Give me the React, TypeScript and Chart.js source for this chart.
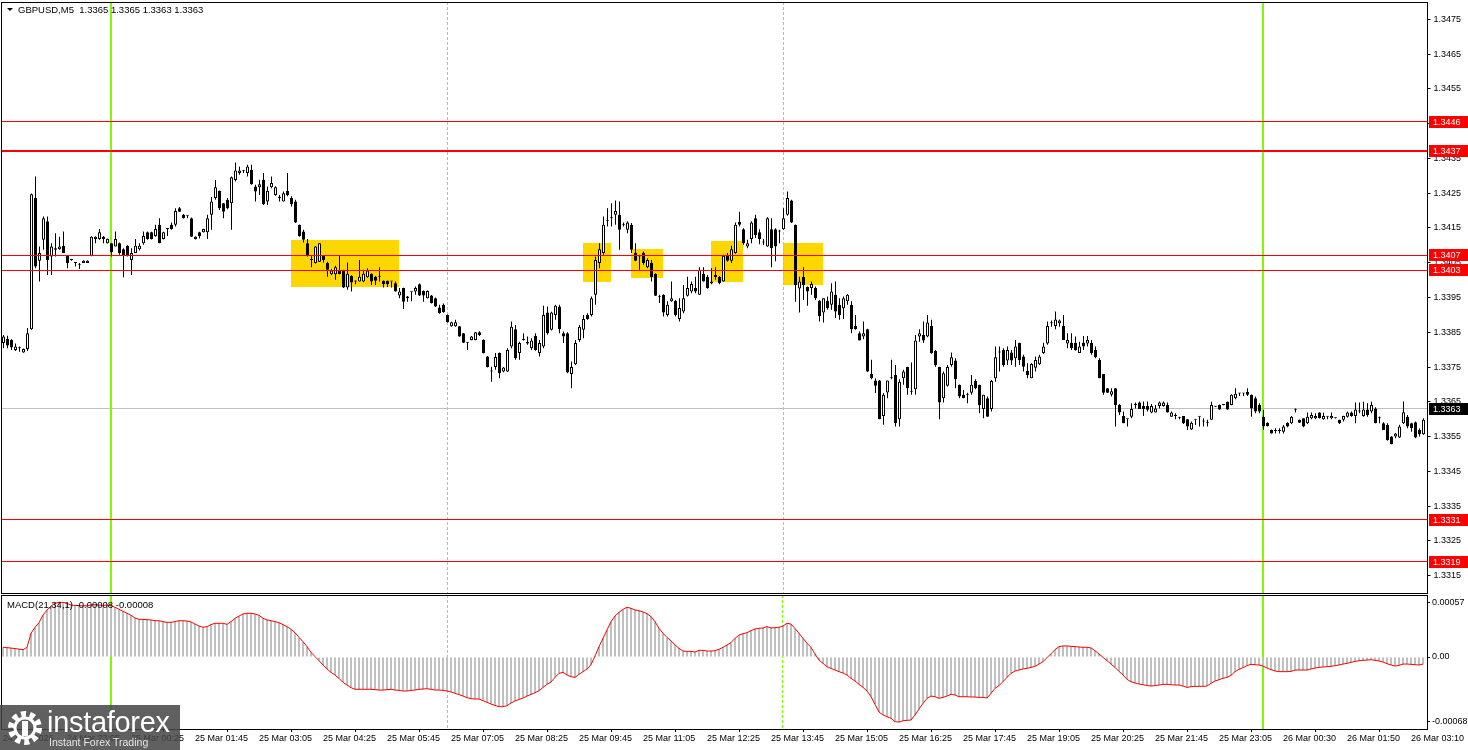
import React, { useEffect, useRef } from "react";
import { Chart, registerables } from "chart.js";

Chart.register(...registerables);

const FONT = '"Liberation Sans", Arial, sans-serif';
Chart.defaults.font.family = FONT;

// ---- data (prices in pips above PRICE_BASE) ----
const PRICE_BASE = 1.33;
const PIP = 0.0001;

const OPEN = [
  81.9,83.1,82.8,79.9,80.4,79.2,80.2,85.9,123.6,105.6,
  111.6,116.9,106.8,109.2,108.9,109.9,107.0,105.8,104.9,104.4,
  104.9,104.9,107.0,111.8,111.8,112.5,110.6,110.6,109.7,110.6,
  108.9,109.9,105.8,107.8,108.9,110.6,113.8,113.8,112.7,115.9,
  111.8,114.7,115.9,115.9,120.7,118.8,118.5,117.8,111.8,113.8,
  113.8,113.8,118.8,123.6,125.7,122.1,123.1,122.1,128.8,130.8,
  131.3,130.8,131.7,126.9,126.7,128.9,122.6,126.7,124.5,123.6,
  122.6,125.7,123.6,122.6,115.9,114.0,110.6,105.8,104.9,105.3,
  107.0,104.9,101.7,101.7,102.8,102.8,97.9,101.2,99.6,99.6,
  99.6,100.8,101.8,101.0,101.0,99.8,99.8,99.6,99.1,95.6,
  97.7,94.8,96.5,96.7,98.8,96.9,94.8,95.6,94.8,92.1,
  92.9,90.0,86.7,86.7,86.7,84.7,82.0,82.8,82.8,85.0,
  82.8,78.0,73.7,75.0,79.0,73.7,73.7,80.9,85.9,79.0,
  82.8,82.3,80.4,84.0,79.0,80.9,90.7,85.7,90.0,92.4,
  84.7,84.7,73.0,75.8,82.8,85.7,90.0,90.0,95.8,104.9,
  107.8,116.9,117.8,118.8,118.8,115.9,114.5,115.9,107.9,106.8,
  107.9,103.7,104.9,101.8,95.1,95.8,90.0,93.9,94.1,88.8,
  91.0,95.5,96.7,97.7,95.8,101.8,100.9,99.0,100.9,101.0,
  99.6,107.0,105.6,107.8,116.8,114.6,109.7,111.8,117.8,113.8,
  110.8,109.7,114.6,114.6,114.0,114.6,118.8,122.9,115.9,97.6,
  100.9,98.0,97.7,97.7,94.1,90.7,94.1,92.9,95.8,92.9,
  91.9,93.9,92.9,86.8,84.7,83.8,85.9,73.0,71.1,71.1,
  60.9,67.7,71.8,72.7,60.0,71.8,75.0,67.9,68.6,83.8,
  84.2,83.8,86.8,79.7,75.0,66.0,69.6,75.6,76.9,69.9,
  67.0,67.0,67.6,71.0,69.9,62.9,66.0,62.9,71.8,79.2,
  79.9,76.9,79.2,77.5,82.0,78.0,73.9,71.8,74.8,75.8,
  79.0,81.8,87.6,86.8,87.6,86.8,81.8,82.0,82.0,79.0,
  82.0,81.8,82.0,79.9,77.0,73.0,68.9,67.0,68.9,64.1,
  60.9,60.0,60.7,64.1,64.8,63.8,63.8,61.9,61.9,63.8,
  63.8,64.1,60.7,60.9,60.3,60.9,60.0,57.0,59.8,60.7,
  59.3,59.0,59.8,63.6,64.1,64.1,65.0,64.1,66.0,67.4,
  67.4,67.9,67.0,66.0,64.1,60.7,59.0,56.9,56.6,56.6,
  56.4,59.0,58.8,62.7,59.8,60.3,58.8,60.3,60.3,61.9,
  60.0,60.7,60.3,60.3,59.8,59.8,60.7,61.9,60.9,62.2,
  60.9,62.8,62.2,63.1,60.3,58.8,58.3,55.0,55.0,54.7,
  58.8,60.7,58.8,59.1,56.9,55.7,
];

const HIGH = [
  84.2,84.0,83.0,81.8,80.9,80.3,86.2,124.9,129.8,109.7,
  118.3,118.3,110.6,113.5,112.5,114.0,107.2,106.0,105.0,104.9,
  105.7,105.7,112.6,112.6,114.7,112.7,112.0,110.7,114.0,110.8,
  109.2,110.0,109.2,111.8,110.6,114.0,114.0,113.9,115.9,117.8,
  113.9,114.8,116.6,120.7,121.0,119.0,118.6,118.0,112.6,113.9,
  114.8,118.8,123.9,128.8,125.8,122.2,123.6,129.8,133.8,132.7,
  131.7,133.2,133.2,127.4,128.9,130.8,126.9,129.8,127.0,124.5,
  125.5,130.8,124.1,123.1,116.0,114.5,111.8,107.0,109.8,110.7,
  107.2,105.3,103.2,104.1,107.0,103.0,105.1,101.4,99.9,105.8,
  103.0,103.4,102.0,101.2,103.7,99.9,99.9,99.7,99.6,97.7,
  97.8,95.4,96.7,98.2,99.0,97.0,97.0,95.7,95.0,92.9,
  93.3,90.1,88.0,88.6,86.8,84.8,82.1,83.9,85.1,85.3,
  83.0,78.2,75.1,79.0,79.2,75.0,80.4,88.1,87.1,82.3,
  84.7,83.8,83.3,84.7,82.8,92.6,92.4,90.9,92.9,92.9,
  85.2,85.0,76.6,82.8,87.1,90.0,90.5,95.3,106.8,110.6,
  118.3,120.7,122.1,122.9,122.6,116.6,116.9,116.4,110.6,107.3,
  108.2,106.3,105.8,102.0,95.8,95.9,93.9,99.6,94.3,94.8,
  98.6,101.0,99.6,101.0,103.7,103.7,101.5,103.4,103.7,101.2,
  107.3,107.8,109.9,116.6,119.7,114.9,111.6,116.9,118.8,114.6,
  111.8,118.1,117.8,114.9,114.5,120.7,125.5,123.1,116.0,101.0,
  103.7,98.2,99.6,98.2,94.3,94.8,95.3,99.1,99.6,94.8,
  95.3,96.0,93.9,90.0,85.2,88.1,86.0,77.1,71.8,71.3,
  67.5,71.1,77.1,75.6,71.5,74.2,75.1,76.3,84.2,85.9,
  88.1,90.0,88.6,79.9,75.1,73.7,75.6,79.2,77.5,70.0,
  68.4,67.6,72.7,71.5,69.9,67.0,66.5,71.3,80.9,80.9,
  80.4,80.9,79.9,82.8,82.0,78.5,76.1,76.1,78.0,78.5,
  82.0,88.1,88.4,91.0,88.7,90.0,84.7,84.7,83.8,82.3,
  83.9,83.9,82.8,80.9,77.5,73.0,69.0,68.9,69.0,64.4,
  62.2,60.1,64.6,64.8,65.1,65.1,65.1,64.4,64.1,65.1,
  65.1,64.8,62.2,61.7,60.7,60.9,60.0,59.3,59.9,60.8,
  60.3,59.8,65.0,63.7,64.2,64.2,65.1,67.2,68.9,67.5,
  67.5,68.9,67.1,66.5,64.6,62.7,59.1,57.0,57.4,57.4,
  58.3,59.1,60.9,63.1,59.9,60.3,61.9,61.9,61.7,62.0,
  61.9,60.8,61.9,60.4,59.8,61.0,62.2,62.2,64.8,64.8,
  65.0,64.6,65.0,63.4,60.8,59.1,58.8,55.1,56.0,58.4,
  65.1,61.2,59.0,59.3,57.4,60.3,
];

const LOW = [
  80.4,80.4,79.9,79.6,79.4,79.1,79.6,85.7,103.4,99.6,
  108.7,101.5,101.5,106.8,108.7,107.8,103.4,105.6,103.9,103.2,
  104.9,104.9,106.9,110.6,111.6,110.6,110.5,106.8,109.7,107.3,
  100.8,106.8,101.5,107.8,108.5,110.2,111.6,111.7,112.5,110.6,
  111.7,112.7,114.5,115.4,119.6,117.7,117.8,112.4,111.7,112.0,
  113.7,111.8,114.5,123.1,120.2,117.8,120.4,114.5,128.4,130.3,
  130.8,129.8,127.4,122.6,124.5,121.6,121.6,126.4,124.3,122.6,
  122.6,124.1,121.2,116.4,112.5,110.8,106.8,103.7,104.8,105.2,
  105.0,101.0,101.5,100.1,101.7,97.7,97.2,96.7,98.8,99.6,
  99.4,100.7,98.6,98.6,99.6,97.9,98.0,97.9,96.7,94.8,
  91.7,93.8,93.9,95.8,95.4,93.8,94.7,93.3,92.3,90.3,
  90.6,87.8,86.6,86.6,83.7,81.9,79.9,82.7,82.7,83.9,
  78.9,74.9,70.8,74.2,71.8,73.5,73.6,80.4,77.1,77.1,
  82.6,81.4,79.9,79.7,78.0,80.4,84.3,85.5,88.6,84.7,
  81.9,73.2,68.9,75.6,82.3,83.3,88.6,89.5,92.9,103.4,
  107.3,115.4,115.4,115.9,108.7,115.4,113.5,107.8,105.4,103.0,
  104.4,103.4,99.6,95.4,93.4,89.5,89.5,93.8,89.5,88.1,
  90.5,95.3,96.2,96.2,95.7,99.6,97.5,98.8,100.1,98.8,
  99.5,105.3,104.9,107.6,115.4,110.2,109.2,110.6,112.1,110.3,
  110.1,109.6,103.7,105.4,110.6,114.5,118.5,116.4,93.8,90.7,
  94.3,92.6,95.8,94.3,88.1,87.8,91.5,91.5,89.1,88.6,
  88.8,92.9,84.7,85.7,82.6,83.0,73.6,71.5,67.5,60.0,
  58.4,66.0,71.5,57.9,57.9,69.9,67.0,67.0,67.0,82.3,
  81.9,83.6,78.8,75.1,60.0,64.8,69.4,75.1,68.9,66.0,
  66.0,64.6,67.0,68.6,61.7,60.3,60.7,62.2,70.8,73.7,
  75.1,75.6,75.6,75.1,75.6,73.7,71.8,71.8,73.7,75.6,
  78.8,81.4,86.6,85.9,86.6,82.8,80.4,79.9,79.7,79.0,
  79.9,80.9,78.5,77.5,71.8,67.0,67.5,66.5,57.9,61.2,
  58.8,57.9,60.3,63.1,62.9,60.9,62.2,61.7,61.9,63.1,
  63.6,61.9,60.7,60.0,60.0,58.6,56.9,56.9,58.3,57.9,
  57.9,57.9,59.8,63.5,62.7,64.0,62.7,64.0,65.7,66.7,
  66.7,66.7,60.7,61.7,61.7,56.9,57.9,55.9,55.9,55.9,
  55.9,57.7,58.6,61.9,58.9,57.7,58.6,60.0,60.0,60.2,
  59.8,60.0,60.0,60.2,58.6,59.3,60.5,60.7,58.8,61.7,
  60.7,60.7,61.7,58.8,58.8,56.9,53.8,52.8,54.5,54.6,
  58.6,57.4,56.4,54.5,55.0,55.5,
];

const CLOSE = [
  83.8,81.2,80.6,80.9,80.4,80.2,84.7,124.7,103.9,107.8,
  117.8,105.8,109.7,108.7,109.7,107.8,104.9,105.8,104.9,104.4,
  105.6,105.6,112.5,112.5,113.8,111.8,111.9,108.0,111.8,107.8,
  107.0,107.0,107.8,109.9,109.9,112.7,111.8,111.8,114.7,110.6,
  113.8,114.7,114.7,119.9,119.7,117.8,118.5,112.5,112.5,112.7,
  114.7,117.8,122.6,126.7,120.7,119.7,120.7,129.6,131.5,131.5,
  131.3,132.7,127.6,125.5,127.6,121.8,125.7,127.9,126.7,123.6,
  125.0,124.5,121.8,116.6,112.7,111.6,107.0,105.8,109.7,110.6,
  105.8,103.0,102.8,103.7,101.7,97.9,101.8,99.3,99.6,101.0,
  101.8,102.8,99.6,99.8,101.0,98.8,98.8,99.6,96.7,96.7,
  93.8,95.3,96.5,97.7,95.6,95.6,96.9,93.4,92.4,90.5,
  90.8,87.9,87.9,87.9,83.8,82.0,82.0,83.8,85.0,84.2,
  79.0,75.0,73.7,77.9,73.2,74.9,79.9,86.6,77.5,81.9,
  82.8,81.8,82.6,79.9,81.9,90.0,84.7,90.7,92.6,85.9,
  83.8,73.4,75.0,81.9,86.6,88.8,88.8,94.8,105.8,108.9,
  115.9,116.9,117.8,119.9,114.5,115.9,116.6,108.7,105.6,106.8,
  104.9,105.8,100.9,95.5,95.1,90.7,92.9,94.8,90.0,92.0,
  94.8,97.7,98.9,96.7,103.0,99.6,97.7,99.6,101.5,99.1,
  107.0,105.6,108.9,115.9,115.9,110.6,110.6,116.6,113.0,111.8,
  110.8,117.8,109.2,109.7,114.0,117.8,123.6,116.6,98.6,99.6,
  98.6,96.7,98.9,94.8,89.7,94.8,91.9,96.7,91.0,90.0,
  94.8,95.8,85.9,85.9,82.6,84.7,73.7,71.8,69.6,60.0,
  67.0,71.1,71.8,58.8,70.8,73.7,68.9,67.9,82.6,84.7,
  82.6,87.8,79.0,75.6,64.8,73.2,75.0,77.8,71.5,66.5,
  66.0,67.0,69.9,68.9,64.1,67.0,60.7,71.0,77.8,79.2,
  75.6,79.9,76.9,80.9,77.0,75.1,72.7,75.9,77.0,78.0,
  80.9,86.8,87.6,88.7,88.4,82.8,82.8,80.4,79.9,80.9,
  80.9,82.8,79.0,77.8,71.8,67.6,67.6,68.0,64.1,61.9,
  58.8,60.0,62.9,64.1,62.9,62.9,62.7,63.8,63.1,64.8,
  64.8,61.9,61.9,60.9,60.3,58.8,57.9,59.0,59.8,60.7,
  59.3,59.0,64.1,63.6,62.8,64.1,62.8,67.0,67.3,67.4,
  67.4,67.0,63.1,62.2,62.2,57.9,58.0,55.9,56.6,56.6,
  57.9,57.9,60.7,62.7,59.0,57.9,60.7,61.2,60.9,60.3,
  60.9,60.7,60.9,60.3,58.8,60.9,61.9,60.9,62.8,62.2,
  62.8,61.2,64.1,58.8,60.3,56.9,54.0,52.8,55.9,57.9,
  62.0,57.9,57.4,54.7,55.7,59.8,
];

// MACD(21,34,1) main value, in units of 0.00001 (signal period 1 = same line)
const MACD = [
  10.2,9.8,9.4,8.8,8.3,7.6,10.2,24.9,31.2,36.0,
  44.1,49.3,53.6,56.4,57.4,57.4,56.4,54.6,54.2,53.9,
  53.6,53.9,54.6,55.0,54.6,54.2,54.6,53.9,52.2,50.1,
  48.0,45.9,43.8,41.0,39.5,39.5,39.2,38.9,38.1,38.1,
  37.1,36.4,36.4,37.1,38.1,38.1,37.8,36.8,34.6,32.5,
  31.2,31.9,34.0,35.4,35.4,35.4,34.3,37.1,40.6,43.0,
  45.2,45.9,45.9,45.2,43.8,40.6,38.9,38.1,37.1,36.0,
  34.0,31.9,29.1,25.6,20.6,16.1,10.9,4.9,0.4,-3.9,
  -8.4,-12.6,-16.1,-18.9,-22.4,-26.6,-29.4,-32.2,-33.9,-33.9,
  -33.9,-33.9,-33.9,-34.3,-34.7,-34.7,-34.3,-33.9,-34.7,-35.0,
  -35.7,-35.7,-35.0,-34.7,-33.9,-33.6,-33.3,-33.9,-34.7,-34.7,
  -35.0,-35.7,-36.7,-38.1,-39.5,-41.0,-42.7,-43.8,-44.1,-44.1,
  -45.9,-47.6,-49.4,-50.8,-52.2,-52.2,-51.1,-48.3,-46.2,-44.5,
  -43.1,-41.0,-39.2,-37.5,-35.4,-31.9,-28.7,-26.3,-21.4,-17.2,
  -16.1,-18.9,-20.7,-21.4,-18.2,-15.4,-12.6,-8.1,1.0,10.9,
  19.6,28.4,37.1,43.1,46.9,50.0,52.2,51.1,49.4,48.6,
  47.3,45.5,42.4,37.1,30.1,24.9,20.6,17.1,12.6,9.1,
  6.3,5.9,5.9,5.2,7.0,7.0,6.3,6.3,6.6,8.1,
  10.2,12.6,15.1,19.6,23.1,24.5,25.5,27.7,29.4,30.1,
  30.5,31.9,30.5,30.8,31.2,32.6,35.4,34.6,29.8,24.9,
  19.6,14.4,10.2,3.2,-3.2,-6.7,-10.2,-11.9,-13.7,-15.4,
  -16.8,-18.9,-22.4,-25.2,-28.7,-31.9,-35.7,-41.7,-49.7,-57.8,
  -60.9,-62.7,-64.4,-67.9,-68.3,-66.9,-66.5,-66.2,-60.9,-54.6,
  -48.7,-43.4,-41.0,-41.7,-43.4,-42.4,-41.0,-39.2,-39.9,-41.7,
  -41.7,-41.7,-42.0,-42.0,-42.4,-42.4,-43.1,-38.2,-32.9,-30.1,
  -25.9,-21.4,-17.2,-14.7,-13.7,-12.6,-11.9,-10.9,-9.8,-7.4,
  -4.9,-0.7,3.5,7.7,10.9,11.6,11.6,11.2,10.9,10.5,
  10.2,10.2,9.5,6.6,3.1,-0.4,-3.9,-7.4,-10.9,-15.1,
  -18.9,-23.5,-25.9,-27.3,-28.4,-29.1,-29.8,-30.5,-30.1,-29.4,
  -28.7,-28.7,-29.1,-29.4,-29.4,-30.5,-31.9,-31.2,-30.8,-30.8,
  -30.8,-30.5,-27.7,-25.2,-23.8,-22.4,-21.4,-19.3,-15.4,-12.9,
  -11.2,-9.1,-7.7,-8.1,-8.4,-9.5,-11.6,-13.3,-14.7,-15.4,
  -15.4,-15.4,-15.1,-13.7,-13.7,-13.7,-13.7,-12.6,-11.6,-10.9,
  -10.5,-10.2,-9.8,-9.1,-8.4,-7.4,-6.7,-5.6,-4.6,-3.9,
  -3.5,-3.2,-2.8,-3.5,-4.2,-5.3,-7.0,-8.4,-9.5,-8.8,
  -7.4,-7.4,-7.7,-8.1,-8.4,-7.4,
];
const MACD_UNIT = 0.00001;

// time axis: candle index of each labelled tick and its text
const TICK_INDEX = [0,16,32,48,64,80,96,112,128,144,160,176,192,208,224,240,256,272,288,304,320,336,352];
const TICK_LABELS = [
  "24 Mar 2026","24 Mar 23:05","25 Mar 00:25","25 Mar 01:45","25 Mar 03:05","25 Mar 04:25",
  "25 Mar 05:45","25 Mar 07:05","25 Mar 08:25","25 Mar 09:45","25 Mar 11:05","25 Mar 12:25",
  "25 Mar 13:45","25 Mar 15:05","25 Mar 16:25","25 Mar 17:45","25 Mar 19:05","25 Mar 20:25",
  "25 Mar 21:45","25 Mar 23:05","26 Mar 00:30","26 Mar 01:50","26 Mar 03:10",
];

const PRICE_TICKS = [1.3315,1.3325,1.3335,1.3345,1.3355,1.3365,1.3375,1.3385,1.3395,1.3405,1.3415,1.3425,1.3435,1.3445,1.3455,1.3465,1.3475];
const PRICE_MIN = 1.331;
const PRICE_MAX = 1.348;

const LEVELS = [1.34456, 1.3437, 1.34072, 1.34029, 1.3331, 1.3319];
const LEVEL_LABELS = ["1.3446", "1.3437", "1.3407", "1.3403", "1.3331", "1.3319"];
const LEVEL_LINE_WIDTHS = [1, 2, 1, 1, 1, 1];
const CURRENT_PRICE = 1.3363;
const CURRENT_LABEL = "1.3363";

// candle indices of separators
const DAY_SEPARATORS = [27, 315];
const PERIOD_SEPARATORS = [111, 195];

// signal zones: [start index, end index, upper price, lower price]
const ZONES = [
  [71.8, 98.9, 1.34114, 1.33979],
  [144.9, 151.8, 1.34107, 1.33996],
  [156.9, 164.8, 1.3409, 1.34005],
  [176.9, 184.8, 1.34113, 1.33996],
  [194.95, 204.8, 1.34107, 1.33987],
];

const MACD_TICKS = [0.00057, 0, -0.00068];
const MACD_TICK_LABELS = ["0.00057", "0.00", "-0.00068"];
const MACD_MIN = -0.000756;
const MACD_MAX = 0.000651;

const TITLE = "GBPUSD,M5  1.3365 1.3365 1.3363 1.3363";
const MACD_TITLE = "MACD(21,34,1) -0.00008 -0.00008";

const N = CLOSE.length;
const X_MIN = -0.5;
const X_MAX = 356;
const TEXT_FONT = '9.5px "Liberation Sans", Arial, sans-serif';
const LABEL_FONT = '9px "Liberation Sans", Arial, sans-serif';

const toPrice = (v: number) => PRICE_BASE + v * PIP;

function drawSeparators(chart: any) {
  const { ctx, chartArea: a, scales } = chart;
  const x = scales.x;
  ctx.save();
  ctx.fillStyle = "#7cfc00";
  for (const i of DAY_SEPARATORS) {
    const p = Math.floor(x.getPixelForValue(i)) - 1;
    ctx.fillRect(p, a.top, 2, a.bottom - a.top);
  }
  ctx.strokeStyle = "#7cfc00";
  ctx.lineWidth = 1;
  ctx.setLineDash([3, 2]);
  for (const i of PERIOD_SEPARATORS) {
    const p = Math.floor(x.getPixelForValue(i)) + 0.5;
    ctx.beginPath();
    ctx.moveTo(p, a.top);
    ctx.lineTo(p, a.bottom);
    ctx.stroke();
  }
  ctx.restore();
}

function drawFrame(chart: any) {
  const { ctx, chartArea: a } = chart;
  ctx.save();
  ctx.strokeStyle = "#000";
  ctx.lineWidth = 1;
  const l = Math.floor(a.left), t = Math.floor(a.top), r = Math.floor(a.right), b = Math.floor(a.bottom);
  ctx.strokeRect(l + 0.5, t + 0.5, r - l, b - t);
  ctx.restore();
}

const mainPlugin = {
  id: "mainDecor",
  beforeDatasetsDraw(chart: any) {
    const { ctx, chartArea: a, scales: { x, y } } = chart;
    ctx.save();
    ctx.beginPath();
    ctx.rect(a.left, a.top, a.right - a.left, a.bottom - a.top);
    ctx.clip();
    ctx.fillStyle = "#ffd700";
    for (const [i0, i1, hi, lo] of ZONES) {
      const x0 = Math.round(x.getPixelForValue(i0));
      const x1 = Math.round(x.getPixelForValue(i1));
      const y0 = Math.round(y.getPixelForValue(hi));
      const y1 = Math.round(y.getPixelForValue(lo));
      ctx.fillRect(x0, y0, x1 - x0, y1 - y0);
    }
    const cy = Math.floor(y.getPixelForValue(CURRENT_PRICE)) + 0.5;
    ctx.strokeStyle = "#c0c0c0";
    ctx.lineWidth = 1;
    ctx.beginPath();
    ctx.moveTo(a.left, cy);
    ctx.lineTo(a.right, cy);
    ctx.stroke();
    ctx.restore();
    drawSeparators(chart);
  },
  afterDatasetsDraw(chart: any) {
    const { ctx, chartArea: a, scales: { y }, width } = chart;
    ctx.save();
    ctx.fillStyle = "#ff0000";
    LEVELS.forEach((lv, k) => {
      const yy = y.getPixelForValue(lv);
      const w = LEVEL_LINE_WIDTHS[k];
      const top = w === 1 ? Math.floor(yy) : Math.round(yy) - 1;
      ctx.fillRect(a.left, top, a.right - a.left, w);
    });
    drawFrame(chart);
    ctx.font = LABEL_FONT;
    ctx.textBaseline = "middle";
    ctx.textAlign = "left";
    const boxX = Math.floor(a.right) + 2;
    const drawBox = (price: number, text: string, bg: string) => {
      const yy = Math.round(y.getPixelForValue(price));
      ctx.fillStyle = bg;
      ctx.fillRect(boxX, yy - 6, width - boxX, 12);
      ctx.fillStyle = "#fff";
      ctx.fillText(text, boxX + 4, yy + 0.5);
    };
    LEVELS.forEach((lv, k) => drawBox(lv, LEVEL_LABELS[k], "#ff0000"));
    drawBox(CURRENT_PRICE, CURRENT_LABEL, "#000000");
    ctx.font = TEXT_FONT;
    ctx.fillStyle = "#000";
    ctx.beginPath();
    ctx.moveTo(7, 8);
    ctx.lineTo(13, 8);
    ctx.lineTo(10, 11);
    ctx.closePath();
    ctx.fill();
    ctx.fillText(TITLE, 18, 10);
    ctx.restore();
  },
};

const macdPlugin = {
  id: "macdDecor",
  beforeDatasetsDraw(chart: any) {
    drawSeparators(chart);
  },
  afterDatasetsDraw(chart: any) {
    const { ctx } = chart;
    drawFrame(chart);
    ctx.save();
    ctx.font = TEXT_FONT;
    ctx.textBaseline = "middle";
    ctx.fillStyle = "#000";
    ctx.fillText(MACD_TITLE, 7, 11);
    ctx.restore();
  },
};

const axisTickFont = { family: FONT, size: 9 };

export default function App() {
  const mainRef = useRef<HTMLCanvasElement | null>(null);
  const macdRef = useRef<HTMLCanvasElement | null>(null);

  useEffect(() => {
    const idx = Array.from({ length: N }, (_, i) => i);
    const bodies = idx.map((i) => ({ x: i, y: [toPrice(OPEN[i]), toPrice(CLOSE[i])] }));
    const wicks = idx.map((i) => ({ x: i, y: [toPrice(LOW[i]), toPrice(HIGH[i])] }));
    const bodyColors = idx.map((i) => (CLOSE[i] > OPEN[i] ? "#ffffff" : "#000000"));

    const main = new Chart(mainRef.current as HTMLCanvasElement, {
      type: "bar",
      data: {
        datasets: [
          {
            label: "bodies",
            data: bodies as any,
            backgroundColor: bodyColors,
            borderColor: "#000000",
            borderWidth: 1,
            borderSkipped: false,
            barThickness: 3,
            maxBarThickness: 3,
            minBarLength: 1,
            grouped: false,
            inflateAmount: 0,
            order: 0,
          } as any,
          {
            label: "wicks",
            data: wicks as any,
            backgroundColor: "#000000",
            borderWidth: 0,
            barThickness: 1,
            maxBarThickness: 1,
            minBarLength: 1,
            grouped: false,
            inflateAmount: 0,
            order: 1,
          } as any,
        ],
      },
      options: {
        responsive: false,
        animation: false,
        events: [],
        layout: { padding: { left: 1.5, top: 2, right: 0, bottom: 1 }, autoPadding: false } as any,
        plugins: { legend: { display: false }, tooltip: { enabled: false } },
        scales: {
          x: { type: "linear", min: X_MIN, max: X_MAX, offset: false, display: false },
          y: {
            type: "linear",
            position: "right",
            min: PRICE_MIN,
            max: PRICE_MAX,
            bounds: "data",
            afterBuildTicks: (s: any) => { s.ticks = PRICE_TICKS.map((value) => ({ value })); },
            afterFit: (s: any) => { s.width = 40.5; s.paddingTop = 0; s.paddingBottom = 0; },
            grid: { drawOnChartArea: false, drawTicks: true, tickLength: 3, color: "#000" },
            border: { display: true, color: "#000" },
            ticks: {
              autoSkip: false,
              padding: 3,
              color: "#000",
              font: axisTickFont,
              callback: (v: any) => Number(v).toFixed(4),
            },
          } as any,
        },
      },
      plugins: [mainPlugin],
    });

    const macdData = idx.map((i) => ({ x: i, y: MACD[i] * MACD_UNIT }));
    const macd = new Chart(macdRef.current as HTMLCanvasElement, {
      type: "bar",
      data: {
        datasets: [
          {
            type: "line",
            label: "signal",
            data: macdData as any,
            borderColor: "#ff0000",
            borderWidth: 1,
            pointRadius: 0,
            tension: 0,
            order: 0,
          } as any,
          {
            type: "bar",
            label: "macd",
            data: macdData as any,
            backgroundColor: "#c0c0c0",
            borderWidth: 0,
            barThickness: 2,
            maxBarThickness: 2,
            grouped: false,
            inflateAmount: 0,
            order: 1,
          } as any,
        ],
      },
      options: {
        responsive: false,
        animation: false,
        events: [],
        layout: { padding: { left: 1, top: 1, right: 0, bottom: 0 }, autoPadding: false } as any,
        plugins: { legend: { display: false }, tooltip: { enabled: false } },
        scales: {
          x: {
            type: "linear",
            min: X_MIN,
            max: X_MAX,
            offset: false,
            position: "bottom",
            afterBuildTicks: (s: any) => { s.ticks = TICK_INDEX.map((value) => ({ value })); },
            afterFit: (s: any) => { s.height = 21; s.paddingLeft = 0; s.paddingRight = 0; },
            grid: { drawOnChartArea: false, drawTicks: true, tickLength: 3, color: "#000" },
            border: { display: true, color: "#000" },
            ticks: {
              autoSkip: false,
              maxRotation: 0,
              minRotation: 0,
              align: "start",
              padding: 1,
              color: "#000",
              font: axisTickFont,
              callback: (_v: any, i: number) => TICK_LABELS[i],
            },
          } as any,
          y: {
            type: "linear",
            position: "right",
            min: MACD_MIN,
            max: MACD_MAX,
            bounds: "data",
            afterBuildTicks: (s: any) => { s.ticks = MACD_TICKS.map((value) => ({ value })); },
            afterFit: (s: any) => { s.width = 41; s.paddingTop = 0; s.paddingBottom = 0; },
            grid: { drawOnChartArea: false, drawTicks: true, tickLength: 3, color: "#000" },
            border: { display: true, color: "#000" },
            ticks: {
              autoSkip: false,
              padding: 2,
              color: "#000",
              font: axisTickFont,
              callback: (_v: any, i: number) => MACD_TICK_LABELS[i],
            },
          } as any,
        },
      },
      plugins: [macdPlugin],
    });

    return () => {
      main.destroy();
      macd.destroy();
    };
  }, []);

  return (
    <div style={{ position: "absolute", left: 0, top: 0, width: 1468, height: 750, background: "#fff", overflow: "hidden" }}>
      <canvas ref={mainRef} width={1468} height={594} style={{ position: "absolute", left: 0, top: 0 }} />
      <canvas ref={macdRef} width={1468} height={156} style={{ position: "absolute", left: 0, top: 594 }} />
      <div
        style={{
          position: "absolute",
          left: 0,
          top: 705,
          width: 180,
          height: 45,
          background: "rgba(70,70,70,0.86)",
          fontFamily: FONT,
        }}
      >
        <svg width="40" height="40" viewBox="0 0 40 40" style={{ position: "absolute", left: 5, top: 3 }}>
          <circle cx="20" cy="20" r="14" fill="none" stroke="#fff" strokeWidth="6" strokeDasharray="5 3.8" />
          <circle cx="20" cy="20" r="10" fill="none" stroke="#fff" strokeWidth="3" />
          <rect x="17" y="13" width="6" height="15" fill="#fff" />
        </svg>
        <span style={{ position: "absolute", left: 47, top: 2, fontSize: 29, lineHeight: "30px", color: "#fff", letterSpacing: -0.3 }}>
          instaforex
        </span>
        <span style={{ position: "absolute", left: 49, top: 31, fontSize: 10.5, lineHeight: "12px", color: "#e6e6e6" }}>
          Instant Forex Trading
        </span>
      </div>
    </div>
  );
}
